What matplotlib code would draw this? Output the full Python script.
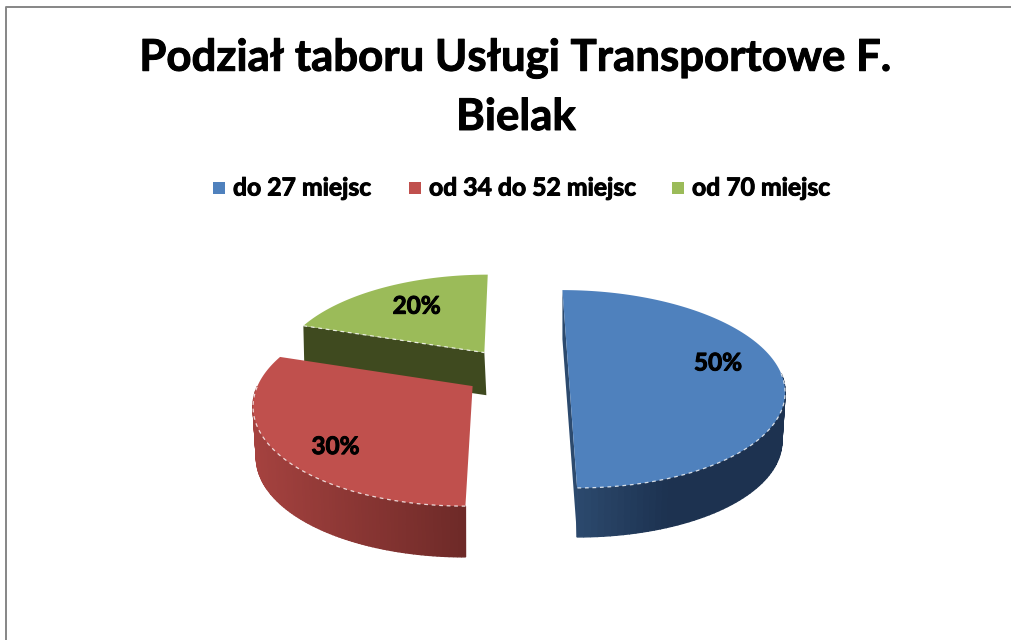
import numpy as np
import matplotlib
matplotlib.use("Agg")
import matplotlib.pyplot as plt
import matplotlib.patheffects as pe
from matplotlib.patches import Polygon, Rectangle

# Pie values
labels = ["do 27 miejsc", "od 34 do 52 miejsc", "od 70 miejsc"]
values = [50, 30, 20]
title_lines = ["Podział taboru Usługi Transportowe F.", "Bielak"]

TOPS = ["#4F81BD", "#C0504D", "#9BBB59"]
WALL_L = ["#2C4A6E", "#A5423F", "#3F4A1F"]
WALL_R = ["#1D3250", "#6E2A28", "#3F4A1F"]

# Pie geometry, in pixels
CX, CY = 515.5, 372
A, B, K = 212, 96, 0.172
EXPLODE = 0.25
DEPTH = 49
LEAN = 0.0014
NEAR = 0.0025   # slices further back are drawn smaller
LABEL_NUDGE = [(1, -9), (1, 15), (3, -1)]

plt.rcParams["font.family"] = ["Lato", "DejaVu Sans"]
fig = plt.figure(figsize=(10.12, 6.40), dpi=100)
ax = fig.add_axes([0, 0, 1, 1])
ax.set_xlim(0, 1012)
ax.set_ylim(640, 0)
ax.axis("off")

# Frame: only the left and top edges are inside the picture
ax.plot([6.5, 6.5, 1012], [640, 6.5, 6.5], color="#868686", lw=1.4)

heavy = [pe.withStroke(linewidth=0.7, foreground="black")]


def mix(c1, c2, t):
    a = np.array(matplotlib.colors.to_rgb(c1))
    b = np.array(matplotlib.colors.to_rgb(c2))
    return a + (b - a) * t


def rim(th, ax0, ay0, sc):
    # point on the slice's rim, th in radians clockwise from the back
    w = 1 + K * np.cos(th)
    X = min(sc, 1.015) * A * np.sin(th) / w
    Y = sc * B * np.cos(th) / w
    s = (ax0 - CX) * LEAN
    return ax0 + X - s * Y, ay0 - Y


# Cumulative angles from the values
total = sum(values)
ends = np.cumsum(values) / total * 2 * np.pi
starts = np.r_[0, ends[:-1]]
mids = (starts + ends) / 2
apex_x = CX + EXPLODE * A * np.sin(mids)
apex_y = CY - EXPLODE * B * np.cos(mids)

# green goes first so that red and blue sit over its wall
for i in [2, 1, 0]:
    t0, t1 = starts[i], ends[i]
    ax0, ay0 = apex_x[i], apex_y[i]
    sc = 1 + (ay0 - CY) * NEAR
    depth = DEPTH * sc
    th = np.linspace(t0, t1, 120)
    xs, ys = rim(th, ax0, ay0, sc)
    z = 2 + 2 * (2 - i)

    # radial walls
    if i == 2:
        # the inner face towards the viewer
        x1, y1 = rim(t0, ax0, ay0, sc)
        ax.add_patch(Polygon([(x1, y1), (ax0, ay0), (ax0 + 2, ay0 + depth - 4), (x1 + 1, y1 + depth - 4)],
                             fc=WALL_L[i], ec="none", zorder=2))
    if i == 0:
        xb, yb = rim(t0, ax0, ay0, sc)
        xf, yf = rim(np.pi, ax0, ay0, sc)
        ax.add_patch(Polygon([(xb, yb), (xf, yf), (xf, yf + depth), (xb, yb + depth)],
                             fc=WALL_L[i], ec="none", zorder=z))

    # outer wall, shaded strip by strip
    vis = np.where((th >= np.pi / 2) & (th <= 3 * np.pi / 2))[0]
    if len(vis) > 1:
        left = xs[vis].min()
        span = xs[vis].max() - left
        for j in range(len(vis) - 1):
            p, q = vis[j], vis[j + 1]
            if i == 0:
                t = min(1, (xs[p] - left) / (span * 0.45))
            else:
                t = (xs[p] - left) / span
            c = mix(WALL_L[i], WALL_R[i], t)
            poly = [(xs[p], ys[p]), (xs[q], ys[q]),
                    (ax0 + (xs[q] - ax0) * 0.985, ys[q] + depth),
                    (ax0 + (xs[p] - ax0) * 0.985, ys[p] + depth)]
            ax.add_patch(Polygon(poly, fc=c, ec=c, lw=1.0, zorder=z))

    # top of the slice
    ax.add_patch(Polygon(np.c_[np.r_[ax0, xs], np.r_[ay0, ys]], fc=TOPS[i], ec="none", zorder=z + 1))

    # dashed light rim
    if len(vis) > 1:
        ax.plot(xs[vis], ys[vis], color="white", lw=0.9, ls=(0, (3, 3)), alpha=0.8, zorder=z + 1)
    if i == 2:
        ax.plot([xs[0], ax0], [ys[0], ay0], color="white", lw=0.9, ls=(0, (3, 3)), alpha=0.8, zorder=3)

    # percentage label
    lx, ly = rim(mids[i], ax0, ay0, sc)
    lx = ax0 + (lx - ax0) * 0.7 + LABEL_NUDGE[i][0]
    ly = ay0 + (ly - ay0) * 0.7 + LABEL_NUDGE[i][1]
    ax.text(lx, ly, f"{values[i]}%", ha="center", va="center", fontsize=17.5, fontweight="bold",
            color="black", zorder=10, path_effects=heavy)

# Title
ax.text(515, 58, title_lines[0], ha="center", va="center", fontsize=31.5, fontweight="bold",
        color="black", path_effects=heavy)
ax.text(516, 117, title_lines[1], ha="center", va="center", fontsize=31.5, fontweight="bold",
        color="black", path_effects=heavy)

# Legend
leg_x = [213, 409, 672]
for x0, lab, col in zip(leg_x, labels, TOPS):
    ax.add_patch(Rectangle((x0, 182), 12, 12, fc=col, ec="none"))
    ax.text(x0 + 20, 188, lab, ha="left", va="center", fontsize=17.8, fontweight="bold", color="black",
            path_effects=heavy)

fig.savefig("out.png", dpi=100)
